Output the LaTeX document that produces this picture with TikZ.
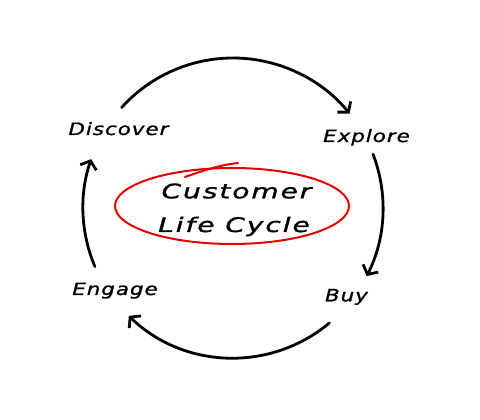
\documentclass[tikz,border=0pt]{standalone}
\usepackage{fontspec}
\setmainfont{DejaVu Sans}
\usetikzlibrary{arrows.meta}
\tikzset{
  cyc/.style={line width=2.8pt, black, line cap=round,
    -{Straight Barb[length=7pt,width=17pt,line width=2.8pt]}},
  lbl/.style={font=\fontsize{17}{20}\selectfont\itshape\addfontfeatures{LetterSpace=5,FakeBold=1.2},
    inner sep=0pt, xscale=1.25, anchor=base},
  big/.style={font=\fontsize{20}{24}\selectfont\itshape\addfontfeatures{LetterSpace=7,FakeBold=1.2},
    inner sep=0pt, xscale=1.4, anchor=base},
  redline/.style={line width=2pt, red!90!black, line cap=round}
}
\begin{document}
\begin{tikzpicture}[x=1pt,y=1pt]
\useasboundingbox (0,0) rectangle (480,420);
\coordinate (c) at (233,212);
\node[lbl] (discover) at (118.5,285) {Discover};
\node[lbl] (explore) at (366.5,278) {Explore};
\node[lbl] (engage) at (115,125) {Engage};
\node[lbl] (buy) at (346.5,118.7) {Buy};
\node[big] (customer) at (236.5,221.7) {Customer};
\node[big] (life) at (234,188) {Life Cycle};
% cycle arcs on a circle round (c)
\draw[cyc] (c) ++(138:150) arc[start angle=138, end angle=39, radius=150];
\draw[cyc] (c) ++(21:150) arc[start angle=21, end angle=-27, radius=150];
\draw[cyc] (c) ++(-50:150) arc[start angle=-50, end angle=-134, radius=150];
\draw[cyc] (c) ++(203:150) arc[start angle=203, end angle=161, radius=150];
% red ellipse
\draw[redline] (232,214) ellipse[x radius=117, y radius=38];
\draw[redline] (185,243) .. controls (205,250) and (220,255) .. (238,257);
\end{tikzpicture}
\end{document}
